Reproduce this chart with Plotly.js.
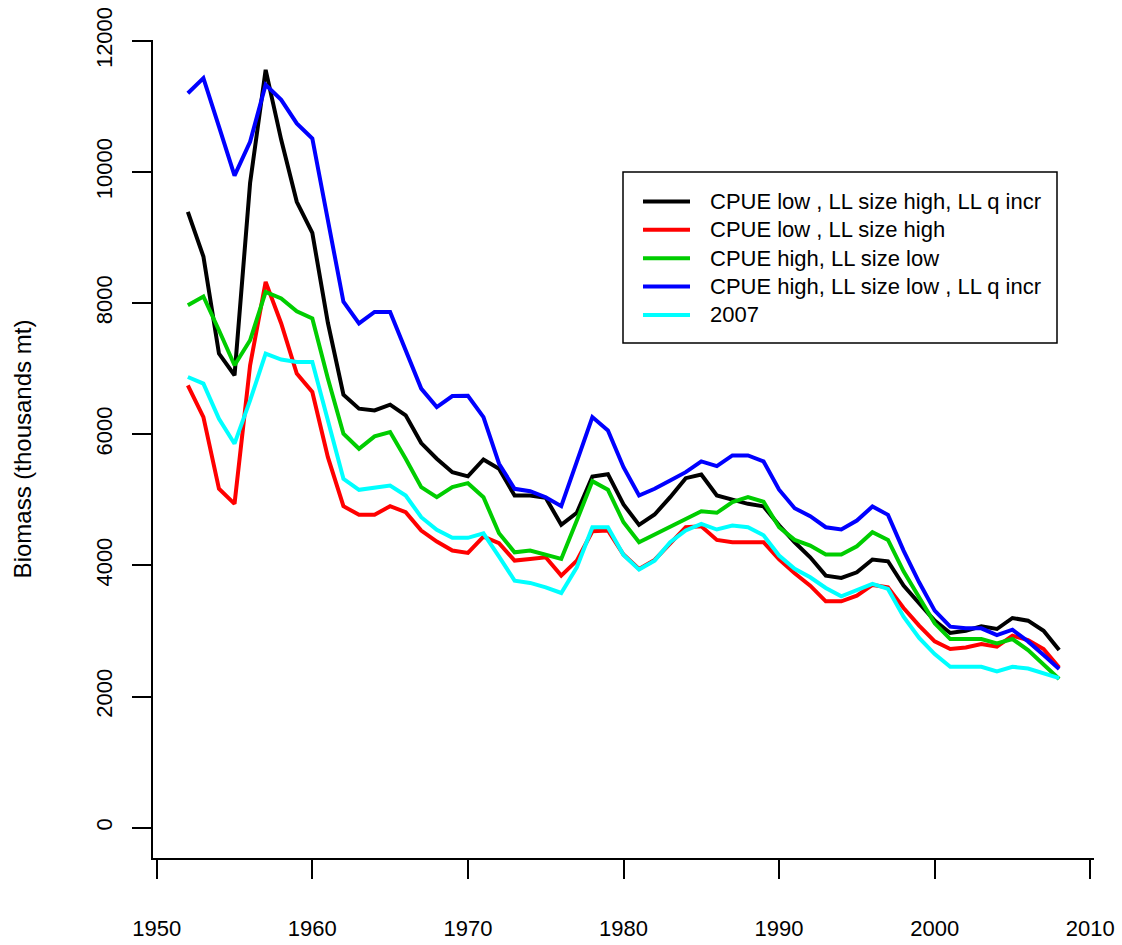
<!DOCTYPE html>
<html>
<head>
<meta charset="utf-8">
<script src="https://cdn.plot.ly/plotly-3.0.1.min.js"></script>
<style>
html,body{margin:0;padding:0;background:#fff;}
#chart{width:1122px;height:945px;}
</style>
</head>
<body>
<div id="chart"></div>
<script>
const years = [1952,1953,1954,1955,1956,1957,1958,1959,1960,1961,1962,1963,1964,1965,1966,1967,1968,1969,1970,
1971,1972,1973,1974,1975,1976,1977,1978,1979,1980,1981,1982,1983,1984,1985,1986,1987,1988,1989,1990,
1991,1992,1993,1994,1995,1996,1997,1998,1999,2000,2001,2002,2003,2004,2005,2006,2007,2008];

const seriesNames = [
  "CPUE low , LL size high, LL q incr",
  "CPUE low , LL size high",
  "CPUE high, LL size low",
  "CPUE high, LL size low , LL q incr",
  "2007"
];

const cpueLowSizeHighQ = [9390,8710,7230,6900,9830,11557,10490,9545,9070,7700,6604,6390,6364,6451,6288,5865,5627,5422,5358,
5616,5474,5066,5066,5031,4618,4802,5356,5391,4929,4618,4776,5040,5330,5387,5066,5000,4939,4900,4612,
4353,4124,3844,3809,3895,4089,4063,3691,3422,3157,2969,3004,3070,3030,3198,3157,3004,2709];

const cpueLowSizeHigh = [6746,6262,5168,4939,7050,8324,7689,6925,6644,5651,4903,4771,4771,4903,4811,4532,4364,4226,4191,
4440,4338,4073,4099,4124,3844,4073,4521,4532,4165,3947,4084,4338,4582,4597,4389,4353,4353,4353,4092,
3880,3691,3452,3452,3539,3702,3666,3351,3081,2841,2725,2749,2801,2760,2928,2862,2725,2444];

const cpueHighSizeLow = [7968,8100,7586,7052,7433,8171,8070,7876,7765,6850,6008,5779,5967,6033,5627,5193,5040,5193,5254,
5040,4490,4200,4226,4165,4099,4684,5285,5153,4658,4353,4470,4597,4710,4826,4802,4964,5040,4970,4582,
4389,4302,4165,4165,4292,4506,4389,3910,3504,3116,2877,2877,2877,2811,2877,2709,2496,2267];

const cpueHighSizeLowQ = [11200,11430,10690,9943,10460,11330,11100,10740,10510,9265,8020,7690,7866,7866,7290,6696,6415,6583,6585,
6262,5550,5168,5132,5040,4903,5575,6262,6058,5498,5066,5168,5295,5422,5585,5513,5677,5677,5585,5155,
4872,4750,4582,4547,4684,4898,4771,4226,3742,3310,3065,3040,3040,2938,3019,2841,2633,2419];

const run2007 = [6873,6772,6237,5856,6517,7230,7139,7102,7102,6212,5321,5153,5183,5219,5066,4735,4542,4420,4420,
4490,4134,3768,3733,3666,3580,3971,4582,4582,4160,3936,4073,4353,4532,4634,4547,4608,4582,4460,4150,
3947,3818,3656,3528,3626,3717,3641,3218,2893,2648,2454,2454,2454,2383,2454,2428,2352,2282];

const seriesValues = [cpueLowSizeHighQ, cpueLowSizeHigh, cpueHighSizeLow, cpueHighSizeLowQ, run2007];
const seriesColors = ["#000000", "#FF0000", "#00CD00", "#0000FF", "#00FFFF"];

const xTicks = [1950,1960,1970,1980,1990,2000,2010];
const yTicks = [0,2000,4000,6000,8000,10000,12000];

const FONT = "Liberation Sans, Arial, Helvetica, sans-serif";

// page geometry
const W = 1122, H = 945;
const M = {l: 153, r: 28, t: 40, b: 87};
const PW = W - M.l - M.r, PH = H - M.t - M.b;
const px2x = p => (p - M.l) / PW;
const py2y = p => (H - M.b - p) / PH;

const traces = seriesValues.map((vals, i) => ({
  type: "scatter",
  mode: "lines",
  x: years,
  y: vals,
  name: seriesNames[i],
  line: {color: seriesColors[i], width: 4},
  showlegend: false
}));

// R-style legend box (drawn with layout shapes + annotations)
const LEG = {left: 623, right: 1057, top: 172, bottom: 343, lineX0: 643, lineX1: 690, textX: 708, row0: 201.5, rowGap: 28.35};
const shapes = [{
  type: "rect", xref: "paper", yref: "paper",
  x0: px2x(LEG.left), x1: px2x(LEG.right), y0: py2y(LEG.bottom), y1: py2y(LEG.top),
  line: {color: "#000", width: 1.5}, fillcolor: "#fff", layer: "above"
}];
const annotations = [];
seriesNames.forEach((name, i) => {
  const ry = py2y(LEG.row0 + LEG.rowGap * i);
  shapes.push({
    type: "line", xref: "paper", yref: "paper",
    x0: px2x(LEG.lineX0), x1: px2x(LEG.lineX1), y0: ry, y1: ry,
    line: {color: seriesColors[i], width: 4}, layer: "above"
  });
  annotations.push({
    xref: "paper", yref: "paper", x: px2x(LEG.textX), y: ry,
    xanchor: "left", yanchor: "middle", showarrow: false,
    text: name, font: {family: FONT, size: 22, color: "#000"}
  });
});

const layout = {
  width: W,
  height: H,
  margin: M,
  paper_bgcolor: "#ffffff",
  plot_bgcolor: "#ffffff",
  font: {family: FONT, size: 22, color: "#000000"},
  showlegend: false,
  shapes: shapes,
  annotations: annotations,
  xaxis: {
    range: [1949.76, 2010.24],
    tickmode: "array", tickvals: xTicks, ticktext: xTicks.map(String),
    ticks: "outside", ticklen: 19, tickwidth: 2, tickcolor: "#000",
    showline: true, linecolor: "#000", linewidth: 2,
    showgrid: false, zeroline: false,
    ticklabelstandoff: 31,
    tickfont: {family: FONT, size: 22, color: "#000"}
  },
  yaxis: {
    range: [-462, 12012],
    tickmode: "array", tickvals: yTicks, ticktext: yTicks.map(String),
    ticks: "outside", ticklen: 19, tickwidth: 2, tickcolor: "#000",
    tickangle: -90,
    showline: true, linecolor: "#000", linewidth: 2,
    showgrid: false, zeroline: false,
    ticklabelstandoff: 11,
    tickfont: {family: FONT, size: 22, color: "#000"},
    title: {text: "Biomass (thousands mt)", font: {family: FONT, size: 24, color: "#000"}, standoff: 54}
  }
};

Plotly.newPlot("chart", traces, layout, {staticPlot: true, displayModeBar: false});
</script>
</body>
</html>
